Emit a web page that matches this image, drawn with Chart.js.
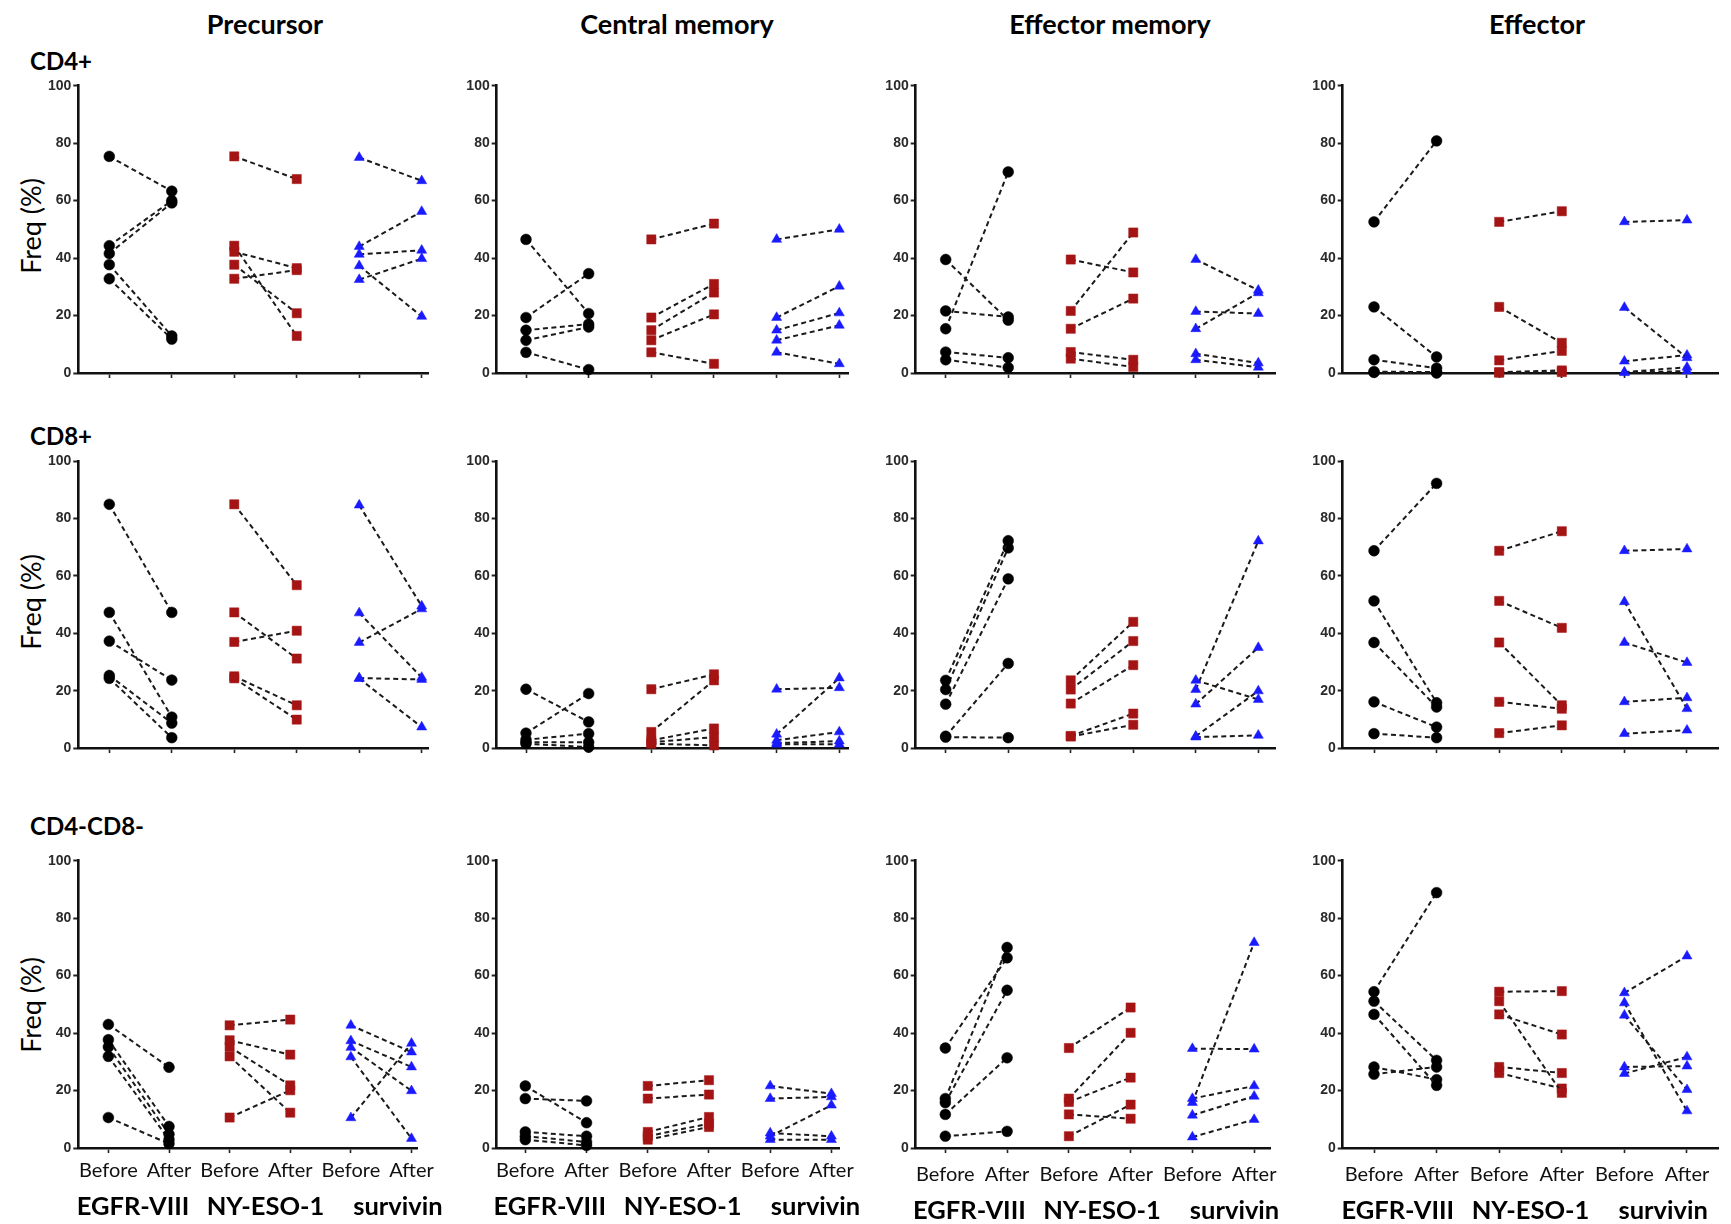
<!DOCTYPE html>
<html><head><meta charset="utf-8">
<script src="https://cdn.jsdelivr.net/npm/chart.js@4.4.1/dist/chart.umd.min.js"></script>
<style>
html,body{margin:0;padding:0;background:#fff;}
#wrap{position:relative;width:1731px;height:1224px;overflow:hidden;font-family:Lato,"Liberation Sans",sans-serif;color:#000;}
canvas{position:absolute;}
.lbl{position:absolute;white-space:nowrap;line-height:1;}
.hdr{font-weight:bold;font-size:27px;transform:translate(-50%,-50%);}
.row{font-weight:bold;font-size:24px;transform:translate(0,-50%);}
.ytitle{font-size:27px;transform:translate(-50%,-50%) rotate(-90deg);}
.grp{font-weight:bold;font-size:25.5px;transform:translate(-50%,-50%);}
</style></head><body><div id="wrap"></div>
<script>
// ---------------- text ----------------
const columnTitles = ["Precursor", "Central memory", "Effector memory", "Effector"];
const rowTitles = ["CD4+", "CD8+", "CD4-CD8-"];
const groupNames = ["EGFR-VIII", "NY-ESO-1", "survivin"];
const timepoints = ["Before", "After"];
const yTickValues = [0, 20, 40, 60, 80, 100];
const yTitle = "Freq (%)";

// ---------------- data (per panel: [EGFR-VIII], [NY-ESO-1], [survivin]; index i = same patient pair) ----------------
const CD4_Precursor_before = [[75.4, 44.3, 41.6, 37.7, 32.8], [75.4, 44.3, 42.2, 37.7, 32.8], [75.0, 44.0, 41.3, 37.3, 32.5]];
const CD4_Precursor_after  = [[63.3, 60.0, 59.2, 12.9, 11.8], [67.5, 12.9, 36.5, 20.8, 35.8], [66.9, 56.2, 42.7, 19.7, 39.8]];
const CD4_CentralMem_before = [[46.5, 19.3, 14.9, 11.4, 7.2], [46.5, 19.3, 14.9, 11.4, 7.2], [46.5, 19.3, 14.9, 11.4, 7.2]];
const CD4_CentralMem_after  = [[20.7, 34.6, 17.0, 16.0, 1.2], [52.0, 31.0, 28.0, 20.4, 3.2], [50.0, 30.2, 20.9, 16.6, 3.2]];
const CD4_EffectorMem_before = [[39.5, 21.6, 15.4, 7.3, 4.6], [39.5, 21.6, 15.4, 7.3, 5.0], [39.5, 21.4, 15.4, 6.7, 4.6]];
const CD4_EffectorMem_after  = [[18.4, 19.5, 70.0, 5.3, 1.9], [35.0, 48.9, 25.9, 4.6, 2.1], [28.8, 20.7, 27.9, 3.5, 2.0]];
const CD4_Effector_before = [[52.6, 23.0, 4.6, 0.5, 0.2], [52.6, 23.0, 4.4, 0.3, 0.1], [52.6, 22.8, 4.1, 0.3, 0.1]];
const CD4_Effector_after  = [[80.8, 5.6, 1.7, 0.3, 0.0], [56.3, 10.5, 7.7, 0.9, 0.3], [53.2, 5.3, 6.2, 2.0, 0.7]];

const CD8_Precursor_before = [[85.0, 47.3, 37.3, 25.3, 24.3], [85.0, 47.3, 37.0, 25.0, 24.3], [84.7, 47.1, 36.8, 24.4, 24.2]];
const CD8_Precursor_after  = [[47.3, 10.8, 23.7, 8.7, 3.6], [56.8, 31.2, 40.9, 14.9, 9.9], [49.5, 24.6, 48.5, 23.9, 7.3]];
const CD8_CentralMem_before = [[20.5, 5.2, 2.9, 2.0, 1.5], [20.5, 5.6, 2.7, 2.0, 1.5], [20.5, 4.8, 2.7, 1.7, 1.3]];
const CD8_CentralMem_after  = [[9.1, 19.0, 5.0, 2.0, 0.3], [25.7, 23.6, 6.8, 3.8, 0.9], [21.0, 24.4, 5.6, 2.4, 1.3]];
const CD8_EffectorMem_before = [[23.6, 20.4, 15.3, 4.1, 3.8], [23.6, 20.4, 15.5, 4.2, 4.0], [23.6, 20.4, 15.3, 4.1, 3.8]];
const CD8_EffectorMem_after  = [[72.3, 69.8, 59.0, 29.5, 3.6], [44.0, 37.3, 28.9, 12.0, 8.1], [16.9, 72.2, 35.0, 19.9, 4.4]];
const CD8_Effector_before = [[68.8, 51.3, 36.8, 16.1, 5.0], [68.8, 51.3, 36.8, 16.1, 5.2], [68.8, 51.0, 36.8, 16.1, 5.0]];
const CD8_Effector_after  = [[92.3, 15.8, 14.3, 7.3, 3.6], [75.6, 41.9, 14.9, 13.7, 7.9], [69.4, 13.7, 29.8, 17.5, 6.2]];

const DN_Precursor_before = [[43.0, 37.7, 35.2, 31.9, 10.6], [42.7, 37.5, 35.2, 31.9, 10.6], [42.7, 37.3, 35.0, 31.7, 10.5]];
const DN_Precursor_after  = [[28.1, 7.5, 4.8, 2.9, 1.5], [44.7, 32.5, 21.8, 12.3, 20.1], [33.4, 28.2, 19.9, 3.3, 36.4]];
const DN_CentralMem_before = [[21.6, 17.2, 5.6, 4.1, 2.9], [21.6, 17.2, 5.6, 4.1, 2.9], [21.6, 17.2, 5.2, 4.1, 2.9]];
const DN_CentralMem_after  = [[8.8, 16.4, 4.1, 2.1, 0.9], [23.6, 18.6, 10.8, 8.5, 7.3], [18.9, 17.8, 4.1, 14.9, 2.9]];
const DN_EffectorMem_before = [[34.8, 17.2, 15.8, 11.7, 4.1], [34.8, 17.2, 16.0, 11.7, 4.1], [34.6, 17.2, 15.8, 11.4, 3.8]];
const DN_EffectorMem_after  = [[66.2, 69.8, 54.9, 31.4, 5.8], [48.9, 40.1, 24.5, 10.2, 15.1], [34.4, 21.6, 71.5, 18.0, 9.9]];
const DN_Effector_before = [[54.4, 51.1, 46.5, 28.2, 25.7], [54.4, 51.1, 46.5, 28.2, 26.1], [54.0, 50.5, 46.2, 28.2, 25.9]];
const DN_Effector_after  = [[88.9, 30.5, 21.8, 23.8, 28.2], [54.6, 19.2, 39.5, 26.1, 20.7], [66.8, 12.9, 20.3, 28.5, 31.7]];

const panelBefore = [
  [CD4_Precursor_before, CD4_CentralMem_before, CD4_EffectorMem_before, CD4_Effector_before],
  [CD8_Precursor_before, CD8_CentralMem_before, CD8_EffectorMem_before, CD8_Effector_before],
  [DN_Precursor_before, DN_CentralMem_before, DN_EffectorMem_before, DN_Effector_before]
];
const panelAfter = [
  [CD4_Precursor_after, CD4_CentralMem_after, CD4_EffectorMem_after, CD4_Effector_after],
  [CD8_Precursor_after, CD8_CentralMem_after, CD8_EffectorMem_after, CD8_Effector_after],
  [DN_Precursor_after, DN_CentralMem_after, DN_EffectorMem_after, DN_Effector_after]
];

// ---------------- layout & style ----------------
const colGeom = [
  {axis: 78.3, t1: 109.3, t6: 421.7, end: 428, hdr: 265, lblPad: 6, grpY: 1206, grpSpread: 1.06},
  {axis: 496.7, t1: 526, t6: 839.3, end: 848, hdr: 677, lblPad: 6, grpY: 1206, grpSpread: 1.06},
  {axis: 915.7, t1: 945.7, t6: 1258.3, end: 1275, hdr: 1110, lblPad: 10, grpY: 1210, grpSpread: 1.06},
  {axis: 1342.7, t1: 1374, t6: 1687, end: 1718, hdr: 1537, lblPad: 10, grpY: 1210, grpSpread: 1.06}
];
const rowGeom = [
  {top: 85.7, zero: 372.7, lblY: 61, titleY: 226},
  {top: 461.3, zero: 747.7, lblY: 436, titleY: 602},
  {top: 860.7, zero: 1147.7, lblY: 826, titleY: 1005}
];
const markerColor = ["#000000", "#a51414", "#1a1aff"];
const markerStyle = ["circle", "rect", "triangle"];
const markerRadius = [5.4, 6.5, 5.8];

const wrap = document.getElementById("wrap");
function addLabel(text, cls, x, y) {
  const d = document.createElement("div");
  d.className = "lbl " + cls;
  d.textContent = text;
  d.style.left = x + "px";
  d.style.top = y + "px";
  wrap.appendChild(d);
}

columnTitles.forEach((t, c) => addLabel(t, "hdr", colGeom[c].hdr, 23));
rowTitles.forEach((t, r) => {
  addLabel(t, "row", 30, rowGeom[r].lblY);
  addLabel(yTitle, "ytitle", 30, rowGeom[r].titleY);
});

for (let r = 0; r < 3; r++) {
  for (let c = 0; c < 4; c++) {
    const cg = colGeom[c], rg = rowGeom[r];
    const s = (cg.t6 - cg.t1) / 5;
    const xmin = 1 - (cg.t1 - cg.axis) / s;
    const xmax = 6 + (cg.end - cg.t6) / s;
    const left = Math.round(cg.axis - 46);
    const top = Math.round(rg.top - 14);
    const yAxW = cg.axis - left;
    const padTop = rg.top - top;
    const xAxH = r === 2 ? 44 : 12;
    const W = Math.round(cg.end + 12) - left;
    const H = Math.round(rg.zero - top + xAxH);
    const padRight = W - (cg.end - left);
    const cv = document.createElement("canvas");
    cv.width = W; cv.height = H;
    cv.style.left = left + "px"; cv.style.top = top + "px";
    cv.style.width = W + "px"; cv.style.height = H + "px";
    wrap.appendChild(cv);

    const before = panelBefore[r][c], after = panelAfter[r][c];
    const datasets = [];
    for (let g = 0; g < 3; g++) {
      for (let i = 0; i < before[g].length; i++) {
        datasets.push({
          data: [{x: 2 * g + 1, y: before[g][i]}, {x: 2 * g + 2, y: after[g][i]}],
          showLine: true,
          borderColor: "#1a1a1a",
          borderWidth: 2,
          borderDash: [5, 3.5],
          pointStyle: markerStyle[g],
          pointRadius: markerRadius[g],
          pointBackgroundColor: markerColor[g],
          pointBorderColor: markerColor[g],
          pointBorderWidth: 0.5,
          clip: false,
          tension: 0
        });
      }
    }

    new Chart(cv, {
      type: "scatter",
      data: {datasets},
      options: {
        responsive: false, animation: false, events: [],
        devicePixelRatio: 1,
        layout: {padding: {top: padTop, right: padRight, left: 0, bottom: 0}},
        plugins: {legend: {display: false}, tooltip: {enabled: false}},
        scales: {
          x: {
            type: "linear", min: xmin, max: xmax,
            afterBuildTicks: ax => { ax.ticks = [1, 2, 3, 4, 5, 6].map(v => ({value: v})); },
            afterFit: sc => { sc.height = xAxH; },
            ticks: {
              autoSkip: false, maxRotation: 0, minRotation: 0,
              padding: cg.lblPad,
              color: "#111",
              font: {family: "Lato", size: 20},
              callback: v => r === 2 ? timepoints[(Math.round(v) - 1) % 2] : ""
            },
            grid: {drawOnChartArea: false, drawTicks: true, tickLength: 5, tickColor: "#222", tickWidth: 1.6},
            border: {display: true, color: "#111", width: 2.6}
          },
          y: {
            type: "linear", min: 0, max: 100,
            afterBuildTicks: ax => { ax.ticks = yTickValues.map(v => ({value: v})); },
            afterFit: sc => { sc.width = yAxW; },
            ticks: {
              padding: 2, color: "#2a2a2a",
              font: {family: "'Liberation Sans', Arial", size: 14, weight: "bold"}
            },
            grid: {drawOnChartArea: false, drawTicks: true, tickLength: 5, tickColor: "#222", tickWidth: 2},
            border: {display: true, color: "#111", width: 2.6}
          }
        }
      }
    });

    if (r === 2) {
      const mid = cg.t1 + s * 2.5;
      for (let g = 0; g < 3; g++) {
        const gx = mid + (s * (2 * g + 0.5) - s * 2.5) * cg.grpSpread;
        addLabel(groupNames[g], "grp", gx, cg.grpY);
      }
    }
  }
}
</script></body></html>
